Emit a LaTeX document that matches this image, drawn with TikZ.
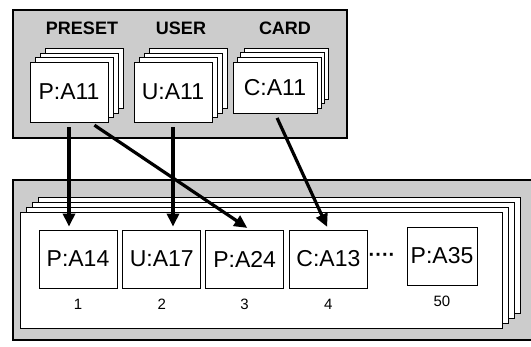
\documentclass[tikz,border=0pt]{standalone}
\usepackage{fontspec}
\setmainfont{Liberation Sans}
\usetikzlibrary{positioning}
\usetikzlibrary{arrows.meta}
\usetikzlibrary{shadows}
\usetikzlibrary{calc}

\definecolor{panelgray}{gray}{0.8}

\begin{document}
\begin{tikzpicture}[x=1pt,y=-1pt,>={Triangle[length=13pt,width=12pt]},
                    node distance=5pt,label distance=7pt,
                    panel/.style={draw,line width=1.4pt,fill=panelgray,inner sep=0pt},
                    title/.style={font=\fontsize{18}{20}\selectfont\bfseries},
                    card/.style={draw,line width=0.8pt,fill=white,inner sep=0pt,
                                 minimum width=78pt,minimum height=60pt,
                                 font=\fontsize{23}{25}\selectfont},
                    box/.style={card,minimum height=58pt},
                    num/.style={font=\fontsize{15}{17}\selectfont},
                    sheet/.style={draw=black,fill=white,line width=0.8pt},
                    deck/.style={copy shadow={sheet,shadow xshift=15pt,shadow yshift=13.5pt},
                                 copy shadow={sheet,shadow xshift=10pt,shadow yshift=9pt},
                                 copy shadow={sheet,shadow xshift=5pt,shadow yshift=4.5pt}},
                    cdeck/.style={copy shadow={sheet,shadow xshift=11pt,shadow yshift=14pt},
                                  copy shadow={sheet,shadow xshift=7pt,shadow yshift=9.5pt},
                                  copy shadow={sheet,shadow xshift=4pt,shadow yshift=5pt}},
                    songdeck/.style={copy shadow={sheet,shadow xshift=18pt,shadow yshift=15pt},
                                     copy shadow={sheet,shadow xshift=12pt,shadow yshift=10pt},
                                     copy shadow={sheet,shadow xshift=6pt,shadow yshift=5pt}},
                    link/.style={->,line width=3.2pt,shorten <=5pt,shorten >=3pt}]
\useasboundingbox (0,0) rectangle (531,346);

% memory banks
\node[panel,minimum width=334pt,minimum height=128pt] (banks) at (180,74) {};
\node[title] (preset) at (82,28) {PRESET};
\node[title] (user) at (181,28) {USER};
\node[title] (cardname) at (285,28) {CARD};

\node[card,deck] (P11) at (69,92) {P:A11};
\node[card,deck] (U11) at (173,92) {U:A11};
\node[card,cdeck,minimum width=84pt,minimum height=51pt] (C11) at (275,87.5) {C:A11};

% song
\node[panel,minimum width=530pt,minimum height=160pt] (song) at (278,260) {};
\node[card,songdeck,minimum width=482pt,minimum height=116pt] (page) at (261,270) {};

\node[box,label={[num]below:1}] (P14) at (78,259) {P:A14};
\node[box,right=of P14,label={[num]below:2}] (U17) {U:A17};
\node[box,right=4pt of U17,label={[num]below:3}] (P24) {P:A24};
\node[box,right=of P24,label={[num]below:4}] (C13) {C:A13};
\node[font=\fontsize{20}{22}\selectfont\bfseries] (dots) at (382,257) {····};
\node[box,minimum width=70pt,label={[num]below:50}] (P35) at (442,256) {P:A35};

\draw[link] (P11.south) -- (P11.south |- P14.north);
\draw[link] (P11.-55) -- (P24.80);
\draw[link] (U11.south) -- (U11.south |- U17.north);
\draw[link] (C11.south) -- (C13.north);

\end{tikzpicture}
\end{document}
